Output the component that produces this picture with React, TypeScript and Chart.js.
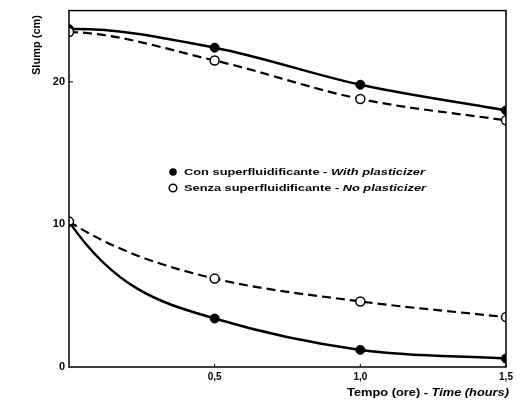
import React, { useEffect, useRef } from 'react';
import { Chart, registerables } from 'chart.js';
Chart.register(...registerables);

const timeHours = [0, 0.5, 1.0, 1.5];
const upperWith = [23.7, 22.4, 19.8, 18.0];
const upperWithout = [23.5, 21.5, 18.8, 17.3];
const lowerWith = [10.2, 3.4, 1.2, 0.6];
const lowerWithout = [10.2, 6.2, 4.6, 3.5];
const yTicks = [0, 10, 20];
const xTicks = [0, 0.5, 1.0, 1.5];
const xTickLabels = ['', '0,5', '1,0', '1,5'];
const legendNormal = ['Con superfluidificante - ', 'Senza superfluidificante - '];
const legendItalic = ['With plasticizer', 'No plasticizer'];
const yTitle = 'Slump (cm)';
const xTitleNormal = 'Tempo (ore) - ';
const xTitleItalic = 'Time (hours)';

const FONT = '"Liberation Sans", Arial, sans-serif';

const pts = (ys: number[]) => timeHours.map((x, i) => ({ x, y: ys[i] }));

// draw a two-part (normal + italic) string horizontally stretched to a target width
function drawMixed(ctx: any, a: string, b: string, x: number, y: number, size: number, targetW: number | null) {
  ctx.font = `bold ${size}px ${FONT}`;
  const wa = ctx.measureText(a).width;
  ctx.font = `italic bold ${size}px ${FONT}`;
  const wb = ctx.measureText(b).width;
  const s = targetW ? targetW / (wa + wb) : 1;
  ctx.save();
  ctx.translate(x, y);
  ctx.scale(s, 1);
  ctx.textAlign = 'left';
  ctx.textBaseline = 'middle';
  ctx.font = `bold ${size}px ${FONT}`;
  ctx.fillText(a, 0, 0);
  ctx.font = `italic bold ${size}px ${FONT}`;
  ctx.fillText(b, wa, 0);
  ctx.restore();
}

const curvePlugin = {
  id: 'curveShape',
  beforeDatasetDraw(chart: any, args: any) {
    const ds: any = chart.data.datasets[args.index];
    const line = args.meta.dataset;
    if (!line || ds.startTangent === undefined) return;
    line.updateControlPoints(chart.chartArea);
    const p = line.points;
    if (!p || p.length < 3) return;
    const p0 = p[0], p1 = p[1], p2 = p[2];
    const dx = p1.x - p0.x;
    const sec = (p1.y - p0.y) / dx;
    p0.cp2x = p0.x + dx / 3;
    p0.cp2y = p0.y + (sec * ds.startTangent * dx) / 3;
    if (ds.secondTangent !== undefined) {
      const m = sec * ds.secondTangent;
      const dx2 = p2.x - p1.x;
      p1.cp1x = p1.x - dx / 3;
      p1.cp1y = p1.y - (m * dx) / 3;
      p1.cp2x = p1.x + dx2 / 3;
      p1.cp2y = p1.y + (m * dx2) / 3;
    }
  },
};

const decorPlugin = {
  id: 'decor',
  afterDraw(chart: any) {
    const ctx = chart.ctx;
    const a = chart.chartArea;
    const xs = chart.scales.x;
    const ys = chart.scales.y;
    ctx.save();
    ctx.strokeStyle = '#000';
    ctx.lineWidth = 1.5;
    ctx.strokeRect(a.left, a.top, a.right - a.left, a.bottom - a.top);
    ctx.lineWidth = 1;
    yTicks.forEach((v) => {
      if (v === 0) return;
      const py = ys.getPixelForValue(v);
      ctx.beginPath();
      ctx.moveTo(a.left, py);
      ctx.lineTo(a.left + 4, py);
      ctx.stroke();
    });
    xTicks.forEach((v) => {
      if (v === 0) return;
      const px = xs.getPixelForValue(v);
      ctx.beginPath();
      ctx.moveTo(px, a.bottom);
      ctx.lineTo(px, a.bottom - 3);
      ctx.stroke();
    });
    ctx.fillStyle = '#000';
    // y title, stretched along its length
    ctx.font = `bold 10px ${FONT}`;
    const wy = ctx.measureText(yTitle).width;
    ctx.save();
    ctx.translate(37, 15);
    ctx.rotate(-Math.PI / 2);
    ctx.scale(60 / wy, 1);
    ctx.textAlign = 'right';
    ctx.textBaseline = 'middle';
    ctx.fillText(yTitle, 0, 0);
    ctx.restore();
    // x title
    drawMixed(ctx, xTitleNormal, xTitleItalic, 347, 393, 10, 162);
    // legend
    const rows = [172, 188];
    rows.forEach((ry, i) => {
      ctx.beginPath();
      ctx.arc(173, ry, 3.8, 0, Math.PI * 2);
      if (i === 0) {
        ctx.fillStyle = '#000';
        ctx.fill();
      } else {
        ctx.fillStyle = '#fff';
        ctx.fill();
        ctx.lineWidth = 1.5;
        ctx.strokeStyle = '#000';
        ctx.stroke();
      }
      ctx.fillStyle = '#000';
      drawMixed(ctx, legendNormal[i], legendItalic[i], 184, ry, 9.5, i === 0 ? 241 : 242);
    });
    ctx.restore();
  },
};

export default function App() {
  const ref = useRef<HTMLCanvasElement | null>(null);
  useEffect(() => {
    document.body.style.margin = '0';
    const solid = (data: number[], st: number, nd?: number) => ({
      data: pts(data),
      borderColor: '#000',
      borderWidth: 2.5,
      pointRadius: 4.5,
      pointBackgroundColor: '#000',
      pointBorderColor: '#000',
      pointBorderWidth: 1,
      cubicInterpolationMode: 'monotone' as const,
      startTangent: st,
      secondTangent: nd,
    });
    const dashed = (data: number[], st: number, nd?: number) => ({
      data: pts(data),
      borderColor: '#000',
      borderWidth: 2.2,
      borderDash: [9, 5],
      pointRadius: 4.5,
      pointBackgroundColor: '#fff',
      pointBorderColor: '#000',
      pointBorderWidth: 1.5,
      cubicInterpolationMode: 'monotone' as const,
      startTangent: st,
      secondTangent: nd,
    });
    const chart = new Chart(ref.current!, {
      type: 'line',
      data: {
        datasets: [
          dashed(upperWithout, 0.1) as any,
          solid(upperWith, -0.2) as any,
          dashed(lowerWithout, 1.6, 0.6) as any,
          solid(lowerWith, 2.2, 0.45) as any,
        ],
      },
      options: {
        animation: false,
        responsive: true,
        maintainAspectRatio: false,
        layout: { padding: { top: 6, right: 25, left: 0, bottom: 0 } },
        plugins: { legend: { display: false }, tooltip: { enabled: false } },
        scales: {
          x: {
            type: 'linear',
            min: 0,
            max: 1.5,
            grid: { display: false, drawTicks: false },
            border: { display: false },
            afterBuildTicks: (s: any) => {
              s.ticks = xTicks.map((v) => ({ value: v }));
            },
            afterFit: (s: any) => {
              s.height = 33;
            },
            ticks: {
              color: '#000',
              padding: 4,
              maxRotation: 0,
              autoSkip: false,
              font: { family: FONT, weight: 'bold', size: 10 },
              callback: (v: any) => {
                const i = xTicks.findIndex((t) => Math.abs(t - Number(v)) < 1e-6);
                return i >= 0 ? xTickLabels[i] : '';
              },
            },
          },
          y: {
            type: 'linear',
            min: 0,
            max: 25,
            grid: { display: false, drawTicks: false },
            border: { display: false },
            afterBuildTicks: (s: any) => {
              s.ticks = yTicks.map((v) => ({ value: v }));
            },
            afterFit: (s: any) => {
              s.width = 69;
            },
            ticks: {
              color: '#000',
              padding: 4,
              autoSkip: false,
              font: { family: FONT, weight: 'bold', size: 11 },
              callback: (v: any) => String(v),
            },
          },
        },
      },
      plugins: [curvePlugin, decorPlugin],
    });
    return () => chart.destroy();
  }, []);
  return (
    <div style={{ position: 'relative', width: 531, height: 400 }}>
      <canvas ref={ref} />
    </div>
  );
}
